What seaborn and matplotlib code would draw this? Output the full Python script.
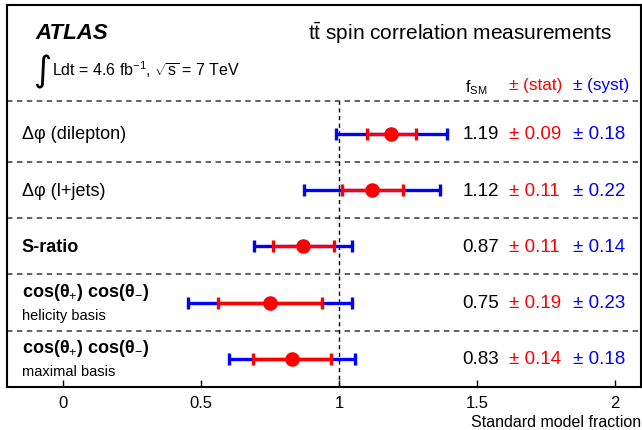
import matplotlib
matplotlib.use("Agg")
import matplotlib.pyplot as plt
import seaborn as sns
import numpy as np
import pandas as pd

labels = ["Δφ (dilepton)", "Δφ (l+jets)", "S-ratio",
          "cos(θ$_{+}$) cos(θ$_{-}$)", "cos(θ$_{+}$) cos(θ$_{-}$)"]
sublabels = ["", "", "", "helicity basis", "maximal basis"]
bold_rows = [False, False, True, True, True]
f_sm = [1.19, 1.12, 0.87, 0.75, 0.83]
stat = [0.09, 0.11, 0.11, 0.19, 0.14]
syst = [0.18, 0.22, 0.14, 0.23, 0.18]
xticks = [0, 0.5, 1, 1.5, 2]

df = pd.DataFrame({"label": labels, "f": f_sm, "stat": stat, "syst": syst})
df["total"] = np.sqrt(df["stat"] ** 2 + df["syst"] ** 2)
# rows drawn top to bottom
df["y"] = np.arange(len(df))[::-1] + 0.5

sns.set_theme(style="white")
plt.rcParams['font.family'] = ['Liberation Sans', 'DejaVu Sans']
plt.rcParams['mathtext.fontset'] = 'custom'
plt.rcParams['mathtext.rm'] = 'Liberation Sans'
plt.rcParams['mathtext.it'] = 'Liberation Sans:italic'
plt.rcParams['mathtext.bf'] = 'Liberation Sans:bold'
plt.rcParams['text.color'] = 'black'
plt.rcParams['axes.labelcolor'] = 'black'
plt.rcParams['xtick.color'] = 'black'

fig = plt.figure(figsize=(6.42, 4.31), dpi=100)
ax = fig.add_axes([7 / 642, 43 / 431, 634 / 642, 382 / 431])
ax.set_xlim(-0.2029, 2.094)
ax.set_ylim(0, 6.79)

RED = '#ff0000'
BLUE = '#0000ff'

# total (blue) then stat (red) error bars
ax.errorbar(df["f"], df["y"], xerr=df["total"], fmt='none', ecolor=BLUE,
            elinewidth=2.4, capsize=4, capthick=2.4, zorder=3)
ax.errorbar(df["f"], df["y"], xerr=df["stat"], fmt='none', ecolor=RED,
            elinewidth=2.4, capsize=4, capthick=2.4, zorder=4)
sns.scatterplot(data=df, x="f", y="y", color=RED, s=110, edgecolor=RED,
                linewidth=0, ax=ax, zorder=5)

# row separators and SM reference line
for yy in [1, 2, 3, 4]:
    ax.axhline(yy, color='#555555', ls=(0, (3, 2.5)), lw=1.3, zorder=1)
ax.axhline(5.09, color='#555555', ls=(0, (3, 2.5)), lw=1.3, zorder=1)
ax.plot([1, 1], [0, 5.09], color='black', ls=(0, (3, 2.5)), lw=1.0, zorder=2)

# row labels and numbers
for i, row in df.iterrows():
    w = 'bold' if bold_rows[i] else 'normal'
    if sublabels[i]:
        ax.text(-0.15, row["y"] + 0.2, row["label"], fontsize=13, fontweight=w,
                va='center', ha='left')
        ax.text(-0.15, row["y"] - 0.22, sublabels[i], fontsize=10.5,
                va='center', ha='left')
    else:
        ax.text(-0.15, row["y"], row["label"], fontsize=13, fontweight=w,
                va='center', ha='left')
    ax.text(1.58, row["y"], f"{row['f']:.2f}", fontsize=13.5, va='center', ha='right')
    ax.text(1.616, row["y"], f"± {row['stat']:.2f}", fontsize=13.5, color=RED,
            va='center', ha='left')
    ax.text(1.848, row["y"], f"± {row['syst']:.2f}", fontsize=13.5, color=BLUE,
            va='center', ha='left')

# header
ax.text(-0.10, 6.31, "ATLAS", fontsize=16, fontweight='bold', style='italic',
        va='center', ha='left')
ax.text(-0.11, 5.62, "∫", fontsize=25, va='center', ha='left',
        family=['DejaVu Sans'])
ax.text(-0.04, 5.66, r"Ldt = 4.6 fb$^{-1}$, $\sqrt{\mathrm{s}}$ = 7 TeV", fontsize=11.5,
        va='center', ha='left')
ax.text(1.989, 6.31, r"$\mathrm{t\bar{t}}$ spin correlation measurements",
        fontsize=15, va='center', ha='right')
ax.text(1.455, 5.33, r"f$_{\mathrm{SM}}$", fontsize=11.5, va='center', ha='left')
ax.text(1.616, 5.38, "± (stat)", fontsize=12.3, color=RED, va='center', ha='left')
ax.text(1.848, 5.38, "± (syst)", fontsize=12.3, color=BLUE, va='center', ha='left')

ax.set_xticks(xticks)
ax.set_xticklabels([f"{t:g}" for t in xticks], fontsize=12)
ax.set_yticks([])
ax.tick_params(axis='x', direction='in', length=5, width=1, bottom=True, pad=6)
ax.set_xlabel("Standard model fraction", fontsize=11.5, loc='right', labelpad=3)
ax.set_ylabel("")
for s in ax.spines.values():
    s.set_color('black')
    s.set_linewidth(1.5)

fig.savefig("out.png", dpi=100)
